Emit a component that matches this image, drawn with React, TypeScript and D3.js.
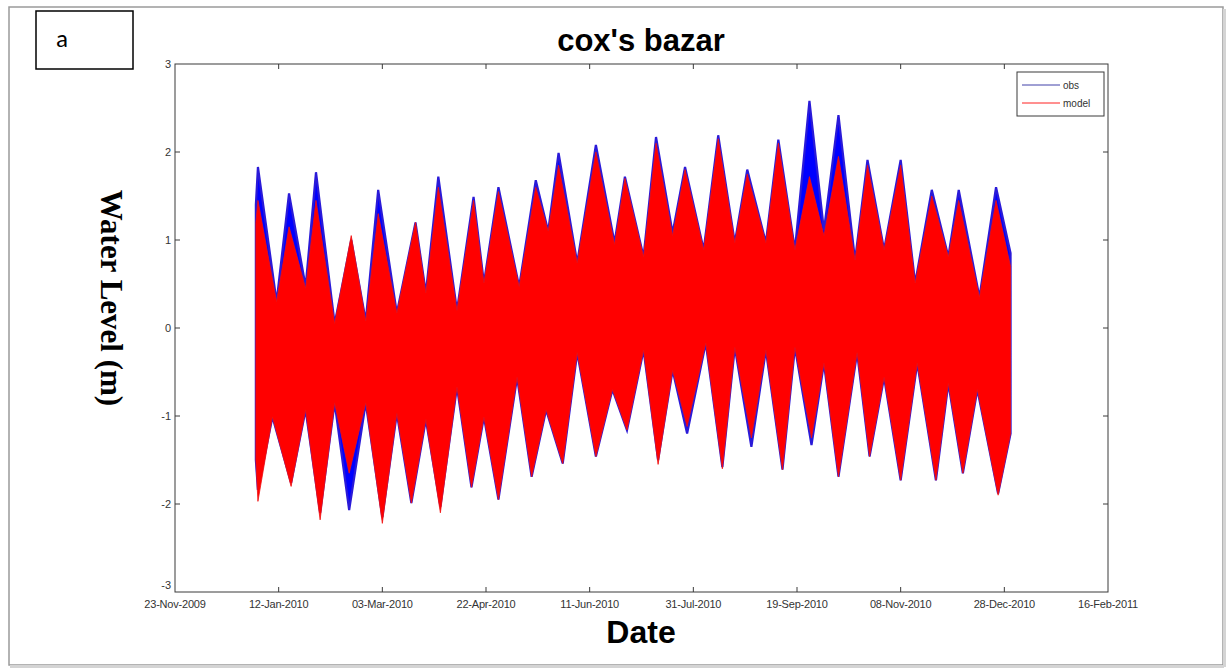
import React from 'react';
import * as d3 from 'd3';

// x axis ticks (every 50 days)
const tickDates = ['2009-11-23', '2010-01-12', '2010-03-03', '2010-04-22', '2010-06-11',
  '2010-07-31', '2010-09-19', '2010-11-08', '2010-12-28', '2011-02-16'];
const yTicks = [-3, -2, -1, 0, 1, 2, 3];

// upper envelope of the tide record, day of 2010
const highDays = [0, 1, 10, 16, 24, 29, 38, 46, 53, 59, 68, 77, 82, 88, 97, 105, 110, 117, 127, 135,
  141, 146, 155, 164, 173, 178, 187, 193, 201, 207, 216, 223, 231, 237, 246, 252, 260, 267, 274, 281,
  289, 295, 303, 311, 318, 326, 334, 339, 349, 357, 364];
const obsHigh = [1.40, 1.83, 0.30, 1.53, 0.47, 1.77, 0.05, 1.00, 0.08, 1.57, 0.17, 1.20, 0.40, 1.72, 0.20, 1.49, 0.51, 1.60, 0.47, 1.68,
  1.10, 1.99, 0.74, 2.08, 0.97, 1.72, 0.81, 2.17, 1.08, 1.83, 0.89, 2.19, 0.97, 1.80, 0.97, 2.14, 0.89, 2.58, 1.11, 2.42,
  0.77, 1.91, 0.89, 1.91, 0.51, 1.57, 0.81, 1.57, 0.35, 1.60, 0.85];
const modelHigh = [1.20, 1.45, 0.30, 1.15, 0.45, 1.45, 0.05, 1.05, 0.08, 1.30, 0.17, 1.20, 0.40, 1.60, 0.20, 1.45, 0.51, 1.55, 0.47, 1.60,
  1.10, 1.85, 0.74, 2.00, 0.95, 1.70, 0.81, 2.10, 1.05, 1.80, 0.89, 2.15, 0.97, 1.75, 0.97, 2.10, 0.89, 1.72, 1.05, 1.95,
  0.77, 1.85, 0.89, 1.85, 0.51, 1.50, 0.81, 1.45, 0.35, 1.45, 0.70];

// lower envelope
const lowDays = [0, 1, 8, 17, 24, 31, 38, 45, 53, 61, 68, 75, 82, 89, 97, 104, 110, 117, 126, 133,
  140, 148, 155, 164, 172, 179, 187, 194, 201, 208, 217, 225, 231, 239, 246, 254, 260, 268, 274, 281,
  290, 296, 303, 311, 319, 328, 334, 341, 348, 358, 364];
const obsLow = [-1.50, -1.84, -1.01, -1.76, -0.93, -2.10, -0.85, -2.07, -0.85, -2.15, -0.97, -1.99, -1.04, -2.03, -0.67, -1.81, -1.01, -1.95, -0.56, -1.69,
  -0.93, -1.54, -0.28, -1.46, -0.70, -1.16, -0.25, -1.50, -0.48, -1.20, -0.17, -1.58, -0.22, -1.35, -0.25, -1.61, -0.22, -1.33, -0.40, -1.69,
  -0.28, -1.46, -0.56, -1.73, -0.40, -1.73, -0.63, -1.65, -0.70, -1.88, -1.20];
const modelLow = [-1.50, -1.97, -1.01, -1.80, -0.93, -2.18, -0.85, -1.65, -0.85, -2.22, -0.97, -1.99, -1.04, -2.10, -0.67, -1.81, -1.01, -1.95, -0.56, -1.69,
  -0.93, -1.54, -0.28, -1.46, -0.70, -1.16, -0.25, -1.55, -0.48, -1.12, -0.17, -1.60, -0.22, -1.25, -0.25, -1.61, -0.22, -1.25, -0.40, -1.69,
  -0.28, -1.46, -0.56, -1.73, -0.40, -1.73, -0.63, -1.65, -0.70, -1.90, -1.20];

const W = 1226, H = 671;
const left = 175, right = 1108, top = 64, bottom = 592;
const axisColor = '#3a3a3a';
const sans = '"Liberation Sans", Arial, sans-serif';

const parse = d3.timeParse('%Y-%m-%d');
const fmt = d3.timeFormat('%d-%b-%Y');
const day2010 = (d: number) => d3.timeDay.offset(new Date(2010, 0, 1), d);

export default function App() {
  const ticks = tickDates.map(s => parse(s) as Date);
  const x = d3.scaleTime().domain([ticks[0], ticks[ticks.length - 1]]).range([left, right]);
  const y = d3.scaleLinear().domain([-3, 3]).range([bottom, top]);

  const line = d3.line<[Date, number]>().x(d => x(d[0])).y(d => y(d[1]));
  const band = (hi: number[], lo: number[]) => {
    const pts: [Date, number][] = [];
    highDays.forEach((d, i) => pts.push([day2010(d), hi[i]]));
    for (let i = lowDays.length - 1; i >= 0; i--) pts.push([day2010(lowDays[i]), lo[i]]);
    return line(pts) + 'Z';
  };

  return (
    <svg width={W} height={H} style={{ position: 'absolute', left: 0, top: 0, background: '#fff' }}>
      {/* outer frame */}
      <rect x={9} y={7} width={1214} height={658} fill="none" stroke="#9a9a9a" strokeWidth={1.5} />
      <rect x={10} y={665} width={1214} height={3} fill="#d4d4d4" />
      <rect x={1223} y={9} width={3} height={658} fill="#d4d4d4" />

      <rect x={36} y={11} width={97} height={58} fill="#fff" stroke="#000" strokeWidth={1.5} />
      <text x={56} y={47} fontFamily={'Calibri, "Liberation Sans", sans-serif'} fontSize={25}>a</text>

      <text x={641} y={51} textAnchor="middle" fontFamily={sans} fontSize={31} fontWeight="bold">cox's bazar</text>

      <g clipPath="url(#plot)">
        <clipPath id="plot"><rect x={left} y={top} width={right - left} height={bottom - top} /></clipPath>
        <path d={band(obsHigh, obsLow)} fill="#0000ff" stroke="#2a1ad8" strokeWidth={2.2} strokeLinejoin="miter" />
        <path d={band(modelHigh, modelLow)} fill="#ff0000" stroke="#f01010" strokeWidth={0.8} />
      </g>

      {/* axes box */}
      <rect x={left} y={top} width={right - left} height={bottom - top} fill="none" stroke={axisColor} strokeWidth={1} />
      {yTicks.map(v => (
        <g key={v}>
          {v > -3 && v < 3 && <line x1={left} x2={left + 5} y1={y(v)} y2={y(v)} stroke={axisColor} />}
          {v > -3 && v < 3 && <line x1={right} x2={right - 5} y1={y(v)} y2={y(v)} stroke={axisColor} />}
          <text x={left - 4} y={y(v) + (v === -3 ? -3 : 4)} textAnchor="end" fontFamily={sans} fontSize={11} fill="#333">{v}</text>
        </g>
      ))}
      {ticks.map((t, i) => (
        <g key={i}>
          {i > 0 && i < ticks.length - 1 && <line x1={x(t)} x2={x(t)} y1={bottom} y2={bottom - 5} stroke={axisColor} />}
          {i > 0 && i < ticks.length - 1 && <line x1={x(t)} x2={x(t)} y1={top} y2={top + 5} stroke={axisColor} />}
          <text x={x(t)} y={bottom + 16} textAnchor="middle" fontFamily={sans} fontSize={11} fill="#333" letterSpacing={-0.2}>{fmt(t)}</text>
        </g>
      ))}

      <text x={641} y={643} textAnchor="middle" fontFamily={sans} fontSize={32} fontWeight="bold">Date</text>
      <text transform={`translate(101,298) rotate(90)`} textAnchor="middle" fontFamily={'"Liberation Serif", "Times New Roman", serif'} fontSize={31} fontWeight="bold">Water Level (m)</text>

      {/* legend */}
      <rect x={1017} y={72} width={87} height={44} fill="#fff" stroke={axisColor} strokeWidth={1} />
      <line x1={1022} x2={1060} y1={85} y2={85} stroke="#4040a8" strokeWidth={1} />
      <line x1={1022} x2={1060} y1={103} y2={103} stroke="#ff2020" strokeWidth={1} />
      <text x={1063} y={89} fontFamily={sans} fontSize={10} fill="#333">obs</text>
      <text x={1063} y={107} fontFamily={sans} fontSize={10} fill="#333">model</text>
    </svg>
  );
}
